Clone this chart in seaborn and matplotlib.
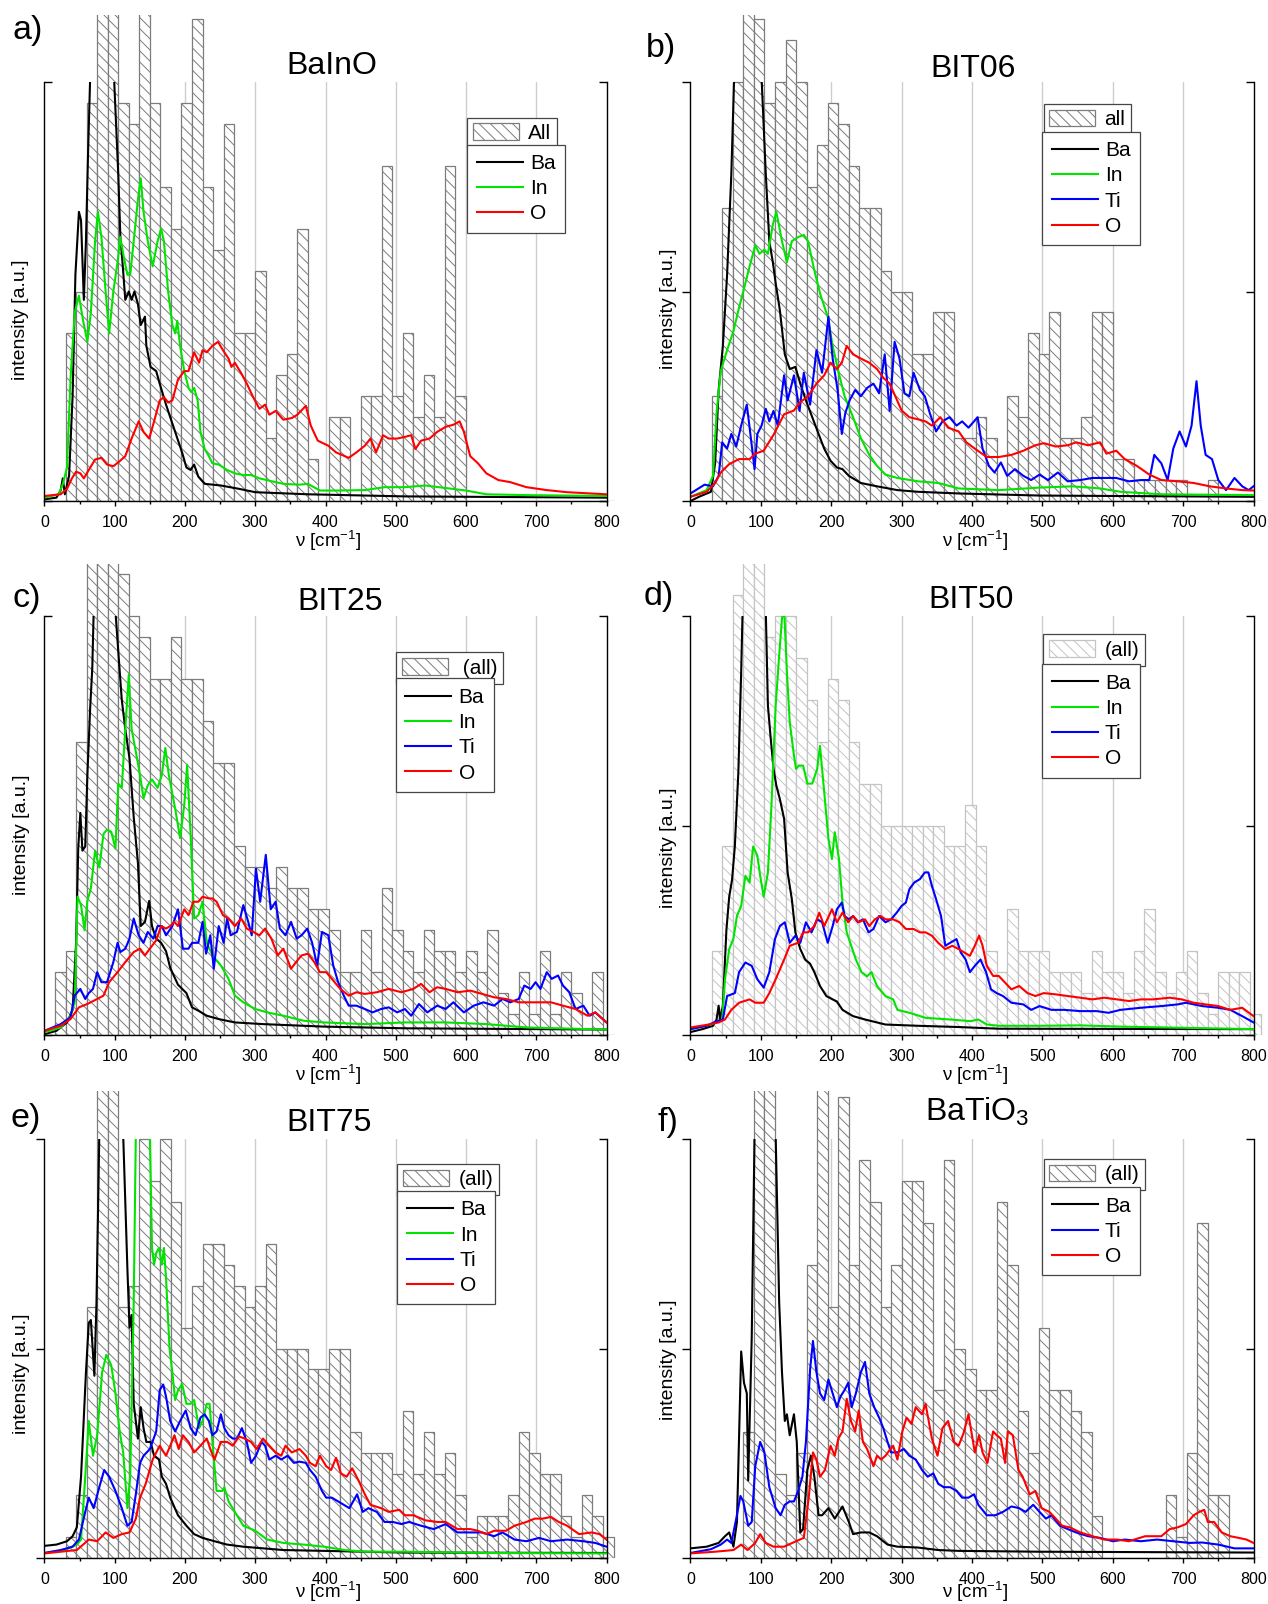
import numpy as np
import pandas as pd
import matplotlib
matplotlib.use("Agg")
import matplotlib.pyplot as plt
import seaborn as sns
from matplotlib.patches import Patch
from matplotlib.lines import Line2D
from matplotlib.ticker import MultipleLocator

# ---------------- data ----------------
# histogram counts per 15 cm^-1 bin (bins start at 0, 15, 30, ... 795)
A_HIST = [0,0,8,10,19,25,25,19,18,25,19,15,13,19,23,15,12,18,8,8,11,3,6,7,13,2,0,4,4,0,5,5,16,5,8,4,6,4,16,5,0,0,0,0,0,0,0,0,0,0,0,0,0,0]
B_HIST = [0,0,5,14,20,25,23,19,20,22,20,15,17,19,18,16,14,14,11,10,10,7,7,9,9,3,3,4,3,0,5,4,8,7,9,3,3,4,9,9,2,2,1,1,1,1,1,0,0,1,0,0,0,0]
C_HIST = [0,3,4,14,24,24,24,22,20,19,17,17,19,17,17,15,13,13,9,8,8,7,8,7,7,6,6,5,3,3,5,3,7,5,4,3,5,4,4,3,4,3,5,2,1,3,1,4,1,3,2,0,3,0]
D_HIST = [0,0,4,9,21,24,24,19,20,20,18,16,14,17,16,14,12,12,10,10,10,10,10,10,9,9,11,9,4,3,6,4,4,4,3,3,3,2,4,3,3,2,4,6,3,2,3,4,2,1,3,3,3,1]
E_HIST = [0,0,1,3,12,25,25,12,13,20,18,20,17,11,13,15,15,14,13,12,13,15,10,10,10,9,9,10,10,6,5,5,5,4,7,4,6,4,5,3,1,2,2,2,3,6,5,4,4,2,1,3,2,1]
F_HIST = [0,0,0,0,0,6,25,25,4,3,5,14,25,12,22,14,19,17,12,14,18,18,16,8,19,10,9,8,8,17,14,7,5,11,8,8,7,6,2,0,0,0,0,0,0,3,1,5,16,3,3,0,0,0]

# partial spectra: (wavenumber, intensity in % of axis height)
A_BA = [(0,0.4),(17,0.8),(23,2.5),(26,5.4),(29,1.6),(35,6),(40,25),(44,54),(49,69),(52,67),(56,48),(59,62),(62,83),(65,101),(80,170),(99,101),(105,78),(108,63),(111,57),(115,48),(120,50),(124,48),(128,50),(133,47),(137,42),(143,44),(145,37),(151,32),(159,31),(164,28),(173,23),(185,17),(196,11.5),(202,8),(208,7.4),(213,8.7),(219,5.8),(228,4.1),(251,3.7),(277,2.9),(300,2.1),(375,1.6),(513,1.1),(800,0.8)]
A_IN = [(0,0.8),(20,1.6),(26,4),(32,8),(37,29),(43,45),(49,49),(55,43),(61,38),(66,45),(72,62),(76,69),(81,63),(87,50),(92,40),(98,50),(104,57),(108,63),(112,59),(118,54),(122,54),(127,62),(133,72),(137,77),(141,69),(147,62),(154,56),(161,62),(166,65),(170,62),(176,50),(182,42),(186,40),(189,43),(193,37),(199,31),(205,27),(209,26),(213,27),(218,24),(222,16.5),(228,12.4),(234,10.7),(239,9),(248,8.7),(260,7.4),(271,6.6),(283,6.2),(294,6.2),(306,5.4),(329,4.5),(340,4.1),(363,3.9),(375,4.1),(392,2.5),(415,2.5),(456,2.6),(484,3.3),(513,3.3),(542,3.7),(571,3.1),(600,2.5),(629,1.6),(686,1.4),(800,1.2)]
A_O = [(0,1.2),(23,1.6),(32,2.9),(39,5.4),(45,7),(51,6.6),(56,5.4),(63,7.4),(72,9.9),(81,10.3),(89,8.7),(98,8.3),(107,9.5),(115,10.7),(124,14.9),(134,19),(141,16.5),(149,14.9),(156,19),(164,24),(170,24.8),(176,23.5),(182,24),(190,29),(199,31),(205,31),(213,35.5),(220,33),(225,36),(231,35.5),(239,37),(247,38),(254,36),(262,34),(266,32),(271,33),(280,30.5),(288,28),(297,24.8),(306,22),(314,23),(320,20.6),(329,21.5),(340,19.4),(352,19.8),(360,20.6),(372,22.7),(379,18),(389,14.4),(404,13.2),(415,11.6),(433,10.3),(444,11.6),(456,13.2),(464,14.9),(472,11.6),(482,15.7),(490,14.9),(502,14.9),(513,15.3),(522,15.7),(528,12.4),(536,14.4),(548,14.9),(559,16.5),(571,17.7),(582,18.2),(591,19),(597,16.5),(606,10.7),(617,9),(629,6.6),(646,5),(663,4.5),(686,3.3),(715,2.6),(744,2.1),(800,1.6)]

B_BA = [(0,0),(12,1),(29,2.2),(35,9),(40,26.5),(46,37),(52,54),(58,78),(62,101),(80,180),(101,101),(107,78),(112,62),(117,57),(121,52),(127,45.5),(134,35),(141,31.5),(149,32),(156,28),(164,24),(173,20),(182,16),(190,12.5),(199,9.6),(208,8),(216,7.6),(225,6),(242,4.3),(265,3.5),(294,2.6),(323,2.2),(381,1.8),(496,1.3),(800,1)]
B_IN = [(0,1),(23,2.6),(32,6),(37,21),(43,31),(52,36),(61,40.5),(68,45.5),(75,50),(84,56),(92,61),(98,59),(105,60),(110,59),(117,66),(122,69),(130,62),(137,57),(144,62),(153,63),(161,63.5),(167,62),(176,55),(185,49),(195,44),(202,37),(210,31),(219,25),(231,20),(242,15),(254,11),(265,8.4),(277,6.3),(294,5.5),(323,4.7),(352,4.3),(381,3),(438,2.6),(496,3.2),(542,3.5),(582,3),(611,2.2),(669,1.6),(800,1.4)]
B_TI = [(0,1.8),(20,3.9),(32,3.5),(40,6),(45,14),(52,12.5),(58,16),(65,13),(72,18),(80,23),(84,17.5),(91,7.6),(95,16),(101,18),(107,22),(112,19),(118,21.5),(124,18),(133,30),(138,24),(147,30),(155,21.5),(161,30.6),(170,23),(179,36),(187,30.6),(196,44),(202,34),(209,26.5),(215,16),(220,21),(226,24),(234,26.5),(242,25),(251,27),(260,28),(268,25.7),(276,35),(283,21.5),(290,38),(297,34),(304,25.7),(311,25),(317,30.6),(326,26.5),(333,25),(340,21),(349,16.6),(358,19),(368,20),(378,18),(386,19),(395,17.5),(408,20),(415,12.5),(424,8.4),(432,6.8),(441,9.2),(450,6),(461,7.6),(473,6),(484,5),(496,6.3),(508,5),(522,6.8),(536,4.7),(554,5),(571,5.5),(588,5.5),(605,5.5),(623,4.7),(640,5),(652,5),(659,11),(669,9),(678,5),(686,12.5),(695,16.6),(704,13),(712,18),(719,28.6),(725,18),(732,11),(741,10),(750,5),(761,2.6),(773,5.5),(784,3.5),(793,2.6),(800,3.5)]
B_O = [(0,1),(23,2.2),(35,4.3),(43,6.8),(55,8.8),(69,10),(84,10),(92,11.3),(104,12),(118,15.8),(133,20.7),(147,21.6),(156,23.6),(167,25),(179,28),(190,30),(199,33),(208,31.5),(215,33),(222,37),(231,35),(242,34),(254,33),(265,31.5),(274,29.4),(283,28),(291,25),(300,21.6),(311,20),(323,19.5),(334,19),(343,18),(355,20),(366,17.5),(381,16.6),(392,14),(404,12.5),(421,10.5),(438,10.5),(456,11),(473,12),(490,13.3),(502,13.8),(519,13),(536,13.3),(548,14),(565,13.3),(582,14),(591,11.3),(605,12),(617,10),(634,8.4),(652,6.3),(669,5),(692,4.7),(715,4.3),(738,3.5),(761,3),(784,2.6),(800,2.5)]

C_BA = [(0,0.2),(17,1),(32,3),(40,6),(45,22),(48,44.5),(51,53),(54,44),(58,45),(61,62),(65,78),(68,87.5),(70,101),(85,170),(101,101),(105,91.6),(110,80),(115,73),(121,66),(127,52),(133,41),(137,26),(143,27),(149,32),(153,26),(159,23),(166,22),(173,20),(179,16),(190,12),(202,10),(210,6.6),(219,5.8),(231,4.6),(248,3.8),(271,3),(311,2.6),(398,2),(513,1.6),(800,1.3)]
C_IN = [(0,0.6),(23,1.8),(37,4.6),(43,7.8),(47,33),(52,31),(57,25),(61,32),(66,35),(72,44),(78,40),(84,48),(89,49),(95,48.5),(101,44.5),(105,60),(110,59),(115,73),(120,86),(124,73),(129,68.5),(136,62),(141,56.5),(147,59.6),(153,61),(161,59),(167,62),(172,68.5),(177,62),(186,54),(193,47),(199,55),(203,64.5),(208,47.7),(213,27.8),(219,28.6),(225,31.8),(231,22),(239,19),(251,16.6),(262,13.4),(271,9.4),(283,7.8),(300,6.2),(317,5.4),(340,4.6),(369,3.4),(398,3),(456,2.6),(513,3),(571,3),(629,2.6),(686,1.8),(800,1.3)]
C_TI = [(0,1),(23,2.6),(37,4.2),(43,9.4),(51,11),(58,8.6),(63,10),(69,11),(75,15),(81,12.6),(89,12.6),(98,17.4),(104,22),(108,19.8),(115,20.6),(121,23),(127,27.8),(134,23.8),(141,22),(147,24.6),(155,23),(161,26),(167,26),(173,23.8),(182,26),(190,30),(197,20.6),(205,20.6),(210,22),(219,22),(225,27),(230,19.4),(236,23.8),(241,15.8),(248,26),(255,22),(260,27.8),(265,23.8),(274,24.6),(283,31),(290,27),(295,23.8),(301,39.7),(307,31.8),(315,43),(322,30),(329,31.8),(335,25.4),(343,23.8),(351,27),(359,23),(366,23.8),(374,25.4),(381,22),(388,16.6),(395,24.6),(404,23.8),(411,16.6),(418,12.6),(426,9.4),(433,7),(444,7),(456,6.2),(467,5.4),(479,6.2),(490,6.6),(502,5.4),(513,6.2),(522,4.6),(533,7.4),(545,5.4),(559,7),(571,6.2),(582,7.8),(597,5.4),(611,7),(625,7.8),(640,7),(652,8.6),(663,7.8),(675,8.6),(683,11.8),(692,11),(699,12.6),(706,11),(715,15),(722,13.4),(731,14.2),(738,11.8),(747,10.2),(756,6.2),(767,7),(776,4.6),(784,5.4),(800,3)]
C_O = [(0,1),(23,2.2),(37,3.8),(49,6.6),(61,7.4),(75,8.6),(84,9.4),(92,12.6),(104,15),(115,17.4),(127,19.8),(136,20.6),(143,19),(150,20.6),(159,22.6),(166,26),(173,25.4),(179,26),(185,27),(190,26),(199,30),(205,28.6),(212,31.8),(219,31.8),(225,33),(234,32.6),(239,32.6),(245,31.8),(254,28.6),(262,27.8),(271,26),(280,27.8),(288,25.4),(297,24.6),(306,23.8),(314,25.4),(323,23),(332,19),(340,20.6),(351,15.8),(358,17.4),(366,19),(375,19.4),(384,17.4),(392,15),(401,15),(409,13.4),(421,11),(433,9.4),(444,10.2),(456,9.8),(473,10.2),(490,11),(508,10.2),(525,11),(536,12.2),(548,10.2),(559,11.4),(571,11),(588,10.2),(606,10.6),(623,9.8),(640,9),(657,8.6),(675,7.8),(698,7.8),(721,7.8),(738,7),(756,6.2),(773,4.6),(784,5.4),(800,3)]

D_BA = [(0,0.7),(17,1.4),(32,2.2),(37,3.7),(40,7),(42,3.7),(46,7),(51,25),(55,33),(59,37),(63,45),(68,62.7),(72,86.6),(74,101),(90,200),(107,101),(110,78.6),(114,70.7),(118,63.5),(122,59.5),(127,56.3),(133,51.6),(138,38.8),(144,32.4),(149,24.5),(156,20.5),(163,18),(170,17),(176,15),(184,11.7),(193,9.3),(202,8.5),(208,8),(216,6),(231,4.5),(248,3.7),(277,2.5),(323,2.2),(381,1.9),(438,1.5),(800,1.4)]
D_IN = [(0,1.4),(29,2.5),(37,3),(45,3.7),(49,13.3),(55,20.5),(61,23),(66,28.4),(72,30.8),(78,38),(84,36.4),(89,45),(95,42.8),(99,38),(104,33),(110,38.8),(115,54.7),(121,78.6),(126,90.6),(130,99.4),(133,102),(137,86.6),(141,74.7),(147,66.7),(150,63.5),(154,64.3),(160,64.3),(166,60),(173,60),(180,63.5),(184,69),(190,58),(196,46.8),(201,42),(205,48.4),(211,42),(216,31.6),(222,24.5),(230,20.5),(235,18),(243,15),(251,14),(257,15),(265,11.7),(277,9.3),(288,8.5),(294,6),(311,5.3),(334,4.1),(369,3.7),(398,3.3),(409,3.7),(421,2.5),(438,2.2),(496,2.2),(554,2.3),(611,2),(800,1.4)]
D_TI = [(0,1.4),(23,2.2),(37,3.3),(46,3.7),(52,9.3),(63,10),(69,15),(78,17.3),(87,16.5),(95,13.3),(104,11.3),(112,15),(120,22.9),(127,26),(134,26.9),(141,22),(149,23.7),(156,22),(164,26.9),(172,24.5),(180,27.6),(187,26.9),(195,22),(202,26),(208,30),(215,31.6),(219,28.4),(225,27.6),(231,28.4),(238,26.9),(245,27.6),(253,24.5),(260,25.3),(268,28.4),(277,26.9),(285,27.6),(293,29.2),(300,30.8),(306,31.6),(311,34.8),(318,36.4),(326,37.2),(333,38.8),(338,38.8),(343,35.6),(349,32.4),(356,28.4),(362,21.3),(369,22),(378,22.9),(384,19.7),(391,18),(397,15),(404,16.5),(412,18),(420,15),(427,10.9),(435,10),(444,9.3),(456,7.7),(473,7.3),(484,6),(496,6.9),(513,6),(531,6),(554,5.7),(577,5.7),(594,5.3),(611,6),(640,6.5),(669,6.9),(692,7.3),(704,7.7),(727,6.9),(750,6.5),(767,6),(784,4.5),(800,3)]
D_O = [(0,1.8),(26,2.5),(40,3),(49,3.7),(58,6),(69,7.7),(84,8.5),(92,7.7),(104,7.7),(112,10),(121,13.3),(133,18),(141,21.3),(153,22),(160,24.5),(167,24.5),(176,26),(183,29.2),(190,26),(201,30),(208,26.9),(216,29.2),(224,26.9),(231,28.4),(239,26.9),(248,27.6),(254,26),(262,27.6),(270,28.4),(277,27.6),(288,27.6),(297,26.9),(306,25.3),(317,25.3),(326,24.5),(334,24.5),(343,23.7),(352,22),(362,20.5),(372,21.3),(381,20.5),(389,19.7),(397,18.9),(404,21.3),(410,23.7),(415,21.3),(421,16.5),(430,14.1),(438,14.1),(447,12.5),(456,10.9),(467,11.7),(479,10),(490,9.3),(502,10),(519,9.7),(536,9.3),(554,8.9),(571,8.5),(588,8.9),(606,8.5),(623,8.1),(640,8.5),(657,8.5),(681,8.9),(698,8.5),(715,7.7),(732,7.3),(750,6.9),(767,6),(784,6.5),(800,4.5)]

E_BA = [(0,2.9),(17,3.2),(32,4),(40,5.2),(46,7.3),(52,19.4),(59,44.3),(63,56),(66,56.8),(71,43.5),(74,61),(78,101),(95,200),(112,101),(118,69),(121,55),(124,58),(127,36.8),(133,28.5),(137,36),(141,31),(145,27.7),(151,27.7),(156,24.4),(163,23.5),(167,19.4),(173,17.7),(179,14.4),(190,10.2),(202,7.7),(213,5.7),(225,4.8),(242,4),(260,3.2),(283,2.7),(340,1.9),(398,1.7),(513,1.3),(800,1.2)]
E_IN = [(0,1.2),(29,1.9),(46,3.2),(52,4.4),(58,19.4),(63,32.7),(69,24.4),(75,29.3),(82,44.3),(88,48.5),(95,46),(101,39.3),(107,30.2),(112,25.2),(118,11.9),(122,19.4),(127,61),(130,101),(140,180),(150,101),(153,74),(156,70),(159,72.8),(163,74),(167,70),(170,74),(173,66.8),(178,50),(182,44.3),(186,37.7),(190,40),(196,41.5),(202,36.8),(208,36.8),(213,37.7),(220,31),(225,32.7),(231,36.8),(235,36.8),(239,27.7),(245,16),(253,16),(256,16.9),(262,13.5),(271,11),(283,7.7),(300,6.5),(317,4.4),(340,3.6),(369,3.2),(398,2.7),(427,1.9),(456,1.5),(513,1.5),(629,1.2),(800,1.1)]
E_TI = [(0,1.2),(23,1.9),(40,2.7),(49,4.4),(58,11),(63,14.4),(70,11.9),(78,16.9),(85,21),(92,19.4),(101,16),(110,11.9),(118,7.7),(124,8.6),(130,15.2),(136,22.7),(141,24.4),(150,26),(159,30.2),(164,40.1),(169,41.4),(173,38.5),(179,32.7),(186,30.2),(193,32.7),(201,35.2),(208,31),(215,29.3),(222,33.5),(228,34.3),(234,32.7),(239,29.3),(245,30.2),(251,34.3),(256,31),(262,29.3),(268,28.5),(274,28.5),(281,31),(288,27.7),(294,22.7),(301,24.4),(309,27.7),(314,26.8),(320,23.5),(329,24.4),(337,23.5),(346,24.4),(355,22.7),(363,23),(372,22.7),(378,21),(386,19.4),(395,16),(401,14.4),(409,14.4),(418,13.5),(426,12.7),(434,11.9),(445,15.2),(453,11),(461,11.9),(473,11),(484,8.6),(496,8.6),(508,8.1),(519,8.6),(536,7.7),(554,6.9),(571,8.1),(588,6.1),(606,6.1),(623,6.1),(640,5.2),(652,6.1),(669,4.4),(686,4),(704,4.8),(721,4),(744,4.4),(767,4),(784,3.6),(800,2.7)]
E_O = [(0,1.1),(23,1.5),(46,1.9),(55,3.2),(63,4.4),(75,4),(87,6.1),(98,4.8),(110,5.7),(121,6.1),(130,9.4),(136,14.4),(144,17.7),(154,23.5),(164,26.8),(173,24.4),(179,26.8),(185,29.3),(191,26),(197,29.3),(205,27.7),(213,25.2),(222,26.8),(231,28.5),(236,26),(242,23.5),(251,27.7),(260,27.7),(268,26.8),(277,29),(285,28.5),(294,27.7),(302,26),(311,28.5),(320,26.8),(329,25.2),(337,24.4),(343,26.8),(352,25.2),(363,26),(372,24.4),(378,22.7),(386,21.9),(392,24.4),(401,21.9),(408,21),(415,23.9),(422,20.2),(430,19.4),(438,21.4),(447,18.5),(456,15.2),(464,12.7),(479,11.9),(490,11),(505,11.5),(513,10.2),(525,10.2),(542,9),(559,8.6),(571,8.6),(588,6.9),(606,6.9),(617,6.5),(629,5.7),(640,6.5),(657,6.5),(669,7.7),(686,8.6),(698,9.4),(709,9.4),(721,9.8),(732,8.6),(744,7.7),(761,5.7),(779,6.1),(790,5.7),(800,4.4)]

F_BA = [(0,2.3),(23,2.7),(40,3.6),(49,5.2),(55,6.1),(61,2.7),(66,8.6),(72,49.3),(76,41.8),(80,39.3),(82,18.5),(87,52.6),(91,101),(105,200),(121,101),(126,61),(130,44.3),(134,32.7),(137,34.3),(141,29.3),(147,34.3),(151,27.7),(156,6.1),(160,6.9),(166,21),(171,24.4),(176,19.4),(182,10.2),(187,10.2),(196,11.9),(205,9.4),(216,12.3),(225,8.6),(231,5.7),(242,6.1),(254,6.1),(265,5.2),(280,3.2),(294,2.7),(323,2.5),(352,1.9),(381,1.7),(496,1.5),(800,1.3)]
F_TI = [(0,1.2),(29,2.1),(43,3.2),(52,4.4),(58,3.6),(65,9.4),(71,14.8),(75,13.5),(82,7.7),(87,8.6),(92,21.9),(99,27.7),(105,25.2),(112,16.9),(121,11.9),(128,10.2),(134,12.7),(141,13.5),(147,13.5),(153,16),(159,19.4),(164,27.7),(170,45.1),(174,51.8),(179,44.3),(184,39.3),(190,37.7),(196,42.6),(202,39.3),(208,36),(213,38.5),(219,40.1),(224,41.8),(229,36),(235,39.3),(242,44.3),(248,46.8),(254,39.3),(261,36),(268,33.5),(274,31),(280,27.7),(285,25.2),(294,25.2),(303,26),(311,24.4),(320,23.5),(329,21),(337,19.4),(345,20.2),(352,17.7),(360,16.9),(369,16.9),(378,16),(386,14.4),(395,14.4),(403,15.2),(409,12.7),(421,10.2),(433,10.2),(444,11),(456,12.3),(467,11.9),(476,11),(487,12.7),(496,11),(505,9.4),(513,10.2),(525,7.7),(536,6.9),(548,6.1),(565,5.2),(582,4.8),(600,4),(617,4.4),(640,4),(663,4.4),(686,4),(709,3.6),(727,3.7),(750,3.2),(773,2.3),(800,2.3)]
F_O = [(0,1.1),(35,1.5),(61,1.9),(72,3.2),(81,1.9),(92,3.6),(99,5.7),(107,3.6),(118,2.7),(133,2.7),(150,4),(161,4.8),(168,14.4),(174,25.2),(179,23.5),(184,19.4),(191,21),(199,26.8),(205,24.4),(210,28.5),(216,30.2),(222,38),(228,32.7),(234,30.2),(239,35.2),(245,27.7),(251,26),(260,21.9),(265,24.4),(271,23.5),(277,24.4),(284,26),(288,26.8),(294,23.5),(301,30.2),(307,33.5),(314,32),(320,36),(329,34.3),(334,36.8),(343,28.5),(351,24.4),(358,31),(366,32.7),(374,27.7),(381,26.8),(388,29.8),(395,34.3),(404,25.2),(410,29.3),(415,25.2),(422,22.7),(430,30.2),(435,29.3),(441,28.5),(447,22.7),(451,30.2),(458,29.3),(466,21),(472,19.4),(482,15.2),(490,16),(499,11.9),(510,11),(519,9.4),(528,7.7),(539,7.3),(554,6.1),(571,5.2),(588,4.4),(606,4.4),(623,4),(646,5.2),(669,5.2),(681,6.9),(692,7.3),(704,8.1),(715,10.2),(723,11),(730,11.5),(735,8.6),(744,8.6),(755,6.1),(767,5.2),(779,4.8),(790,4.4),(800,3.6)]

BIN_WIDTH = 15
N_BINS = len(A_HIST)

# ---------------- style ----------------
plt.rcParams.update({
    "font.family": ["Liberation Sans", "DejaVu Sans"],
    "mathtext.fontset": "custom",
    "mathtext.rm": "Liberation Sans",
    "mathtext.it": "Liberation Sans:italic",
    "mathtext.bf": "Liberation Sans:bold",
    "mathtext.default": "regular",
    "hatch.linewidth": 0.7,
    "axes.linewidth": 1.0,
})

COLORS = {"Ba": "#000000", "In": "#00e400", "Ti": "#0000ff", "O": "#ff0000"}
HATCH = "\\\\\\"

W, H = 1268, 1604
fig = plt.figure(figsize=(W / 100, H / 100), dpi=100)


def frac(left, top, width, height):
    return [left / W, 1 - (top + height) / H, width / W, height / H]


PANELS = [
    dict(rect=(44.5, 82, 562, 419), ext=67, letter="a)", lxy=(12, 31), title="BaInO", txy=(0.512, 1.018),
         series=[("Ba", A_BA), ("In", A_IN), ("O", A_O)], hist=A_HIST, hlabel="All", hec="#7c7c7c",
         ydir="in", yt=[0, 100], yly=0.432, ylx=-0.028, xly=-0.067, hleg=(0.7525, 0.915), lleg=(0.7525, 0.8506)),
    dict(rect=(690.5, 82, 563, 419), ext=67, letter="b)", lxy=(646, 48.5), title="BIT06", txy=(0.501, 1.012),
         series=[("Ba", B_BA), ("In", B_IN), ("Ti", B_TI), ("O", B_O)], hist=B_HIST, hlabel="all", hec="#7c7c7c",
         ydir="out", yt=[0, 50, 100], yly=0.46, ylx=-0.024, xly=-0.067, hleg=(0.627, 0.948), lleg=(0.625, 0.881)),
    dict(rect=(44.5, 616, 562, 419), ext=52, letter="c)", lxy=(12, 599), title="BIT25", txy=(0.526, 1.014),
         series=[("Ba", C_BA), ("In", C_IN), ("Ti", C_TI), ("O", C_O)], hist=C_HIST, hlabel=" (all)", hec="#7c7c7c",
         ydir="in", yt=[0, 100], yly=0.477, ylx=-0.025, xly=-0.067, hleg=(0.6255, 0.913), lleg=(0.6255, 0.851)),
    dict(rect=(690.5, 616, 563, 419), ext=52, letter="d)", lxy=(644, 596), title="BIT50", txy=(0.499, 1.018),
         series=[("Ba", D_BA), ("In", D_IN), ("Ti", D_TI), ("O", D_O)], hist=D_HIST, hlabel="(all)", hec="#c4c4c4",
         ydir="out", yt=[0, 50, 100], yly=0.446, ylx=-0.024, xly=-0.067, hleg=(0.6266, 0.956), lleg=(0.625, 0.885)),
    dict(rect=(44.5, 1139, 562, 419), ext=48, letter="e)", lxy=(10, 1119), title="BIT75", txy=(0.506, 1.018),
         series=[("Ba", E_BA), ("In", E_IN), ("Ti", E_TI), ("O", E_O)], hist=E_HIST, hlabel="(all)", hec="#7c7c7c",
         ydir="out", yt=[0, 50, 100], yly=0.44, ylx=-0.025, xly=-0.053, hleg=(0.628, 0.9406), lleg=(0.628, 0.876)),
    dict(rect=(690.5, 1139, 563, 419), ext=48, letter="f)", lxy=(658, 1122), title="BaTiO$_3$", txy=(0.509, 1.043),
         series=[("Ba", F_BA), ("Ti", F_TI), ("O", F_O)], hist=F_HIST, hlabel="(all)", hec="#7c7c7c",
         ydir="out", yt=[0, 50, 100], yly=0.474, ylx=-0.024, xly=-0.053, hleg=(0.627, 0.953), lleg=(0.625, 0.885)),
]

bin_centers = np.arange(N_BINS) * BIN_WIDTH + BIN_WIDTH / 2
XEXT = 15  # extra x-range for the histogram layer (last bin runs past 800)

for p in PANELS:
    l, t, w, h = p["rect"]

    # background layer with vertical grid lines
    ax_bg = fig.add_axes(frac(l, t, w, h), zorder=0)
    ax_bg.set_xlim(0, 800)
    ax_bg.set_ylim(0, 100)
    ax_bg.set_xticks(list(range(100, 800, 100)))
    ax_bg.grid(axis="x", color="#cdcdcd", lw=1.0)
    ax_bg.tick_params(left=False, bottom=False, labelleft=False, labelbottom=False)
    for s in ax_bg.spines.values():
        s.set_visible(False)

    # histogram layer (extends above the plot frame)
    ext = p["ext"]
    ax_h = fig.add_axes(frac(l, t - ext, w + XEXT * w / 800, h + ext), zorder=1)
    ax_h.patch.set_visible(False)
    hdf = pd.DataFrame({"nu": bin_centers, "count": p["hist"]})
    sns.histplot(data=hdf, x="nu", weights="count", binwidth=BIN_WIDTH,
                 binrange=(0, N_BINS * BIN_WIDTH), ax=ax_h, element="bars",
                 fill=True, facecolor="white", edgecolor=p["hec"], linewidth=0.9, hatch=HATCH)
    ax_h.set_xlim(0, 800 + XEXT)
    ax_h.set_ylim(0, 20 * (h + ext) / h)
    ax_h.axis("off")

    # lines layer
    ax = fig.add_axes(frac(l, t, w, h), zorder=2)
    ax.patch.set_visible(False)
    names = [n for n, _ in p["series"]]
    df = pd.concat([pd.DataFrame(s, columns=["nu", "I"]).assign(el=n) for n, s in p["series"]],
                   ignore_index=True)
    sns.lineplot(data=df, x="nu", y="I", hue="el", hue_order=names, palette=COLORS,
                 estimator=None, sort=False, lw=1.5, legend=False, ax=ax)
    ax.set_xlim(0, 800)
    ax.set_ylim(0, 100)

    ax.spines["top"].set_visible(False)
    ax.spines["right"].set_visible(False)
    for s in ("left", "bottom"):
        ax.spines[s].set_color("black")
        ax.spines[s].set_linewidth(1.0)

    ax.set_xticks(list(range(0, 801, 100)))
    ax.xaxis.set_minor_locator(MultipleLocator(50))
    ax.tick_params(axis="x", which="major", direction="out", length=3.8, width=1.0,
                   labelsize=11.5, pad=6, colors="black")
    ax.tick_params(axis="x", which="minor", direction="out", length=2.4, width=1.0)
    ax.set_yticks(p["yt"])
    ax.tick_params(axis="y", which="both", direction=p["ydir"], length=6.0, width=1.0,
                   labelleft=False, right=False)
    ax.yaxis.set_minor_locator(plt.NullLocator())

    sec = ax.secondary_yaxis("right")
    sec.set_yticks(p["yt"])
    sec.tick_params(axis="y", direction="in", length=6.0, width=1.0, labelright=False)
    sec.spines["right"].set_linewidth(1.0)
    sec.spines["right"].set_color("black")

    ax.set_xlabel("ν [cm$^{-1}$]", fontsize=13.5)
    ax.xaxis.set_label_coords(0.505, p["xly"])
    ax.set_ylabel("intensity [a.u.]", fontsize=14)
    ax.yaxis.set_label_coords(p["ylx"], p["yly"])

    ax.text(p["txy"][0], p["txy"][1], p["title"], transform=ax.transAxes,
            ha="center", va="baseline", fontsize=23)

    # legends
    hist_handle = Patch(facecolor="white", edgecolor=p["hec"], hatch=HATCH, lw=0.9)
    leg1 = ax.legend([hist_handle], [p["hlabel"]], loc="upper left", bbox_to_anchor=p["hleg"],
                     borderaxespad=0, frameon=True, fancybox=False, edgecolor="#454545",
                     fontsize=15, handlelength=2.2, handleheight=0.85, handletextpad=0.45,
                     borderpad=0.28)
    leg1.get_frame().set_linewidth(0.9)
    leg1.get_frame().set_alpha(1)
    ax.add_artist(leg1)
    line_handles = [Line2D([], [], color=COLORS[n], lw=1.5) for n in names]
    leg2 = ax.legend(line_handles, names, loc="upper left", bbox_to_anchor=p["lleg"],
                     borderaxespad=0, frameon=True, fancybox=False, edgecolor="#454545",
                     fontsize=15, handlelength=2.2, handletextpad=0.35, borderpad=0.45,
                     labelspacing=0.3)
    leg2.get_frame().set_linewidth(0.9)
    leg2.get_frame().set_alpha(1)

    fig.text(p["lxy"][0] / W, 1 - p["lxy"][1] / H, p["letter"], ha="left", va="center", fontsize=24.5)

fig.savefig("out.png", dpi=100)
